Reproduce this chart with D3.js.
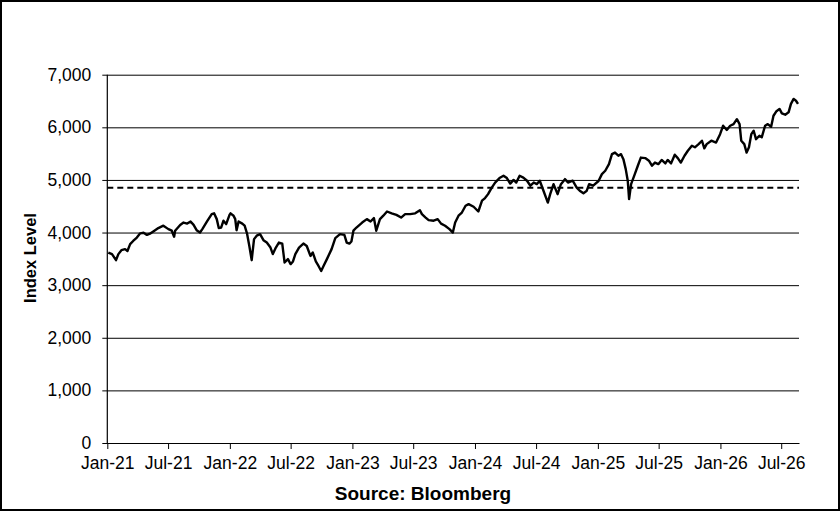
<!DOCTYPE html>
<html>
<head>
<meta charset="utf-8">
<script src="https://cdn.jsdelivr.net/npm/d3@7"></script>
<style>
  body { margin: 0; background: #fff; }
  svg text { font-family: "Liberation Sans", Arial, sans-serif; fill: #000; }
</style>
</head>
<body>
<div id="chart"></div>
<script>
var svgWidth = 840;
var svgHeight = 511;

// plot area
var margin = { top: 74.7, right: 41, bottom: 68, left: 107.3 };
var width = svgWidth - margin.left - margin.right;
var height = svgHeight - margin.top - margin.bottom;

// index level series
var dates = [
  "2021-01-04","2021-01-15","2021-01-27","2021-02-03","2021-02-12","2021-02-23","2021-03-02","2021-03-10",
  "2021-03-19","2021-03-30","2021-04-09","2021-04-19","2021-04-29","2021-05-10","2021-05-18","2021-06-02",
  "2021-06-17","2021-07-02","2021-07-12","2021-07-19","2021-07-22","2021-08-06","2021-08-16","2021-08-27",
  "2021-09-06","2021-09-15","2021-09-24","2021-10-04","2021-10-11","2021-10-25","2021-11-08","2021-11-15",
  "2021-11-23","2021-11-29","2021-12-06","2021-12-13","2021-12-21","2021-12-31","2022-01-03","2022-01-12",
  "2022-01-17","2022-01-21","2022-01-27","2022-02-07","2022-02-14","2022-02-21","2022-02-28","2022-03-07",
  "2022-03-14","2022-03-22","2022-04-01","2022-04-11","2022-04-21","2022-05-02","2022-05-09","2022-05-18",
  "2022-05-27","2022-06-06","2022-06-13","2022-06-23","2022-07-01","2022-07-08","2022-07-15","2022-07-26",
  "2022-08-08","2022-08-18","2022-08-29","2022-09-05","2022-09-14","2022-09-22","2022-09-30","2022-10-07",
  "2022-10-17","2022-10-31","2022-11-11","2022-11-25","2022-12-08","2022-12-15","2022-12-23","2022-12-29",
  "2023-01-04","2023-01-13","2023-01-30","2023-02-13","2023-02-24","2023-03-06","2023-03-13","2023-03-24",
  "2023-04-03","2023-04-14","2023-04-28","2023-05-12","2023-05-26","2023-06-07","2023-06-22","2023-07-07",
  "2023-07-21","2023-07-27","2023-08-07","2023-08-16","2023-08-31","2023-09-12","2023-09-22","2023-10-04",
  "2023-10-17","2023-10-27","2023-11-03","2023-11-13","2023-11-23","2023-12-04","2023-12-13","2023-12-28",
  "2024-01-11","2024-01-22","2024-01-31","2024-02-09","2024-02-20","2024-03-01","2024-03-14","2024-03-26",
  "2024-04-05","2024-04-15","2024-04-25","2024-05-03","2024-05-13","2024-05-24","2024-06-04","2024-06-14",
  "2024-06-24","2024-07-03","2024-07-12","2024-07-23","2024-08-05","2024-08-12","2024-08-22","2024-09-03",
  "2024-09-13","2024-09-25","2024-10-04","2024-10-18","2024-10-30","2024-11-08","2024-11-19","2024-11-29",
  "2024-12-06","2024-12-18","2025-01-03","2025-01-13","2025-01-23","2025-02-03","2025-02-12","2025-02-21",
  "2025-03-03","2025-03-11","2025-03-18","2025-03-25","2025-03-31","2025-04-04","2025-04-10","2025-04-21",
  "2025-04-30","2025-05-09","2025-05-22","2025-06-02","2025-06-11","2025-06-20","2025-06-30","2025-07-10",
  "2025-07-21","2025-07-28","2025-08-07","2025-08-18","2025-08-27","2025-09-05","2025-09-16","2025-09-26",
  "2025-10-08","2025-10-17","2025-10-28","2025-11-07","2025-11-14","2025-11-21","2025-12-05","2025-12-19",
  "2025-12-31","2026-01-09","2026-01-20","2026-01-30","2026-02-09","2026-02-19","2026-02-27","2026-03-04",
  "2026-03-13","2026-03-20","2026-03-27","2026-04-03","2026-04-10","2026-04-17","2026-04-27","2026-05-04",
  "2026-05-14","2026-05-22","2026-06-01","2026-06-08","2026-06-16","2026-06-26","2026-07-03","2026-07-13",
  "2026-07-23","2026-07-30","2026-08-07","2026-08-14","2026-08-20"
];

var levels = [
  3620,3590,3475,3590,3665,3685,3650,3780,
  3840,3905,3985,3995,3955,3985,4020,4085,
  4130,4065,4035,3920,4035,4145,4190,4170,
  4210,4145,4045,4000,4065,4210,4350,4365,
  4255,4085,4095,4225,4160,4335,4365,4320,
  4255,4045,4210,4170,4130,3985,3745,3475,
  3875,3940,3970,3855,3810,3715,3590,3715,
  3810,3790,3430,3495,3400,3450,3590,3715,
  3790,3745,3555,3620,3450,3365,3270,3365,
  3495,3685,3895,3970,3955,3810,3790,3830,
  4035,4095,4190,4255,4210,4275,4035,4255,
  4320,4400,4365,4335,4285,4350,4350,4365,
  4425,4350,4285,4235,4225,4255,4170,4130,
  4065,4000,4190,4320,4380,4510,4540,4490,
  4400,4605,4655,4730,4855,4950,5035,5080,
  5035,4930,5000,4950,5080,5045,4985,4890,
  4950,4920,4985,4795,4570,4730,4920,4730,
  4920,5015,4950,4985,4855,4795,4745,4795,
  4920,4890,4980,5110,5175,5300,5490,5520,
  5460,5490,5395,5205,4985,4635,4920,5110,
  5270,5425,5415,5365,5270,5330,5300,5380,
  5315,5380,5315,5480,5415,5330,5460,5555,
  5650,5620,5680,5745,5600,5680,5745,5710,
  5870,6030,5950,6030,6060,6155,6060,5745,
  5680,5520,5620,5870,5935,5775,5840,5810,
  6030,6060,6010,6220,6300,6350,6265,6240,
  6285,6445,6540,6505,6445
];

// dashed reference level
var refLevel = 4850;

var yTicks = [0, 1000, 2000, 3000, 4000, 5000, 6000, 7000];
var xStart = "2021-01-01";
var xEnd = "2026-08-23";

var parseDate = d3.timeParse("%Y-%m-%d");

var data = dates.map(function(d, i) {
  return { date: parseDate(d), level: levels[i] };
});

var svg = d3.select("#chart")
  .append("svg")
  .attr("width", svgWidth)
  .attr("height", svgHeight);

// outer frame
svg.append("rect")
  .attr("x", 1)
  .attr("y", 1)
  .attr("width", svgWidth - 2)
  .attr("height", svgHeight - 2)
  .attr("fill", "#fff")
  .attr("stroke", "#000")
  .attr("stroke-width", 2);

var chartGroup = svg.append("g")
  .attr("transform", `translate(${margin.left}, ${margin.top})`);

var xTimeScale = d3.scaleTime()
  .domain([parseDate(xStart), parseDate(xEnd)])
  .range([0, width]);

var yLinearScale = d3.scaleLinear()
  .domain([0, 7000])
  .range([height, 0]);

// gridlines with outward tick marks on the left
var leftAxis = d3.axisLeft(yLinearScale)
  .tickValues(yTicks)
  .tickSize(-width)
  .tickSizeOuter(0)
  .tickPadding(16)
  .tickFormat(d3.format(","));

var yAxisG = chartGroup.append("g").call(leftAxis);
yAxisG.select(".domain").remove();
yAxisG.selectAll(".tick line")
  .attr("x1", -5)
  .attr("stroke", "#000")
  .attr("stroke-width", 1);
yAxisG.selectAll(".tick text")
  .attr("x", -16)
  .style("font-size", "17.5px");

// vertical axis line
chartGroup.append("line")
  .attr("x1", 0).attr("x2", 0)
  .attr("y1", 0).attr("y2", height)
  .attr("stroke", "#000")
  .attr("stroke-width", 1.2);

var bottomAxis = d3.axisBottom(xTimeScale)
  .ticks(d3.timeMonth.every(6))
  .tickSize(6)
  .tickSizeOuter(0)
  .tickPadding(8)
  .tickFormat(d3.timeFormat("%b-%y"));

var xAxisG = chartGroup.append("g")
  .attr("transform", `translate(0, ${height})`)
  .call(bottomAxis);
xAxisG.select(".domain").attr("stroke", "#000").attr("stroke-width", 1.2);
xAxisG.selectAll(".tick line").attr("stroke", "#000");
xAxisG.selectAll(".tick text").style("font-size", "17.5px");

// dashed reference line
chartGroup.append("line")
  .attr("x1", 0)
  .attr("x2", width)
  .attr("y1", yLinearScale(refLevel))
  .attr("y2", yLinearScale(refLevel))
  .attr("stroke", "#000")
  .attr("stroke-width", 2)
  .attr("stroke-dasharray", "6,4");

var line = d3.line()
  .x(d => xTimeScale(d.date))
  .y(d => yLinearScale(d.level));

chartGroup.append("path")
  .datum(data)
  .attr("d", line)
  .attr("fill", "none")
  .attr("stroke", "#000")
  .attr("stroke-width", 2.4)
  .attr("stroke-linejoin", "round");

// axis titles
chartGroup.append("text")
  .attr("transform", "rotate(-90)")
  .attr("x", 0 - (258 - margin.top))
  .attr("y", 36 - margin.left)
  .attr("text-anchor", "middle")
  .style("font-size", "16.5px")
  .style("font-weight", "bold")
  .text("Index Level");

svg.append("text")
  .attr("x", 423)
  .attr("y", 500)
  .attr("text-anchor", "middle")
  .style("font-size", "19px")
  .style("font-weight", "bold")
  .text("Source: Bloomberg");
</script>
</body>
</html>
